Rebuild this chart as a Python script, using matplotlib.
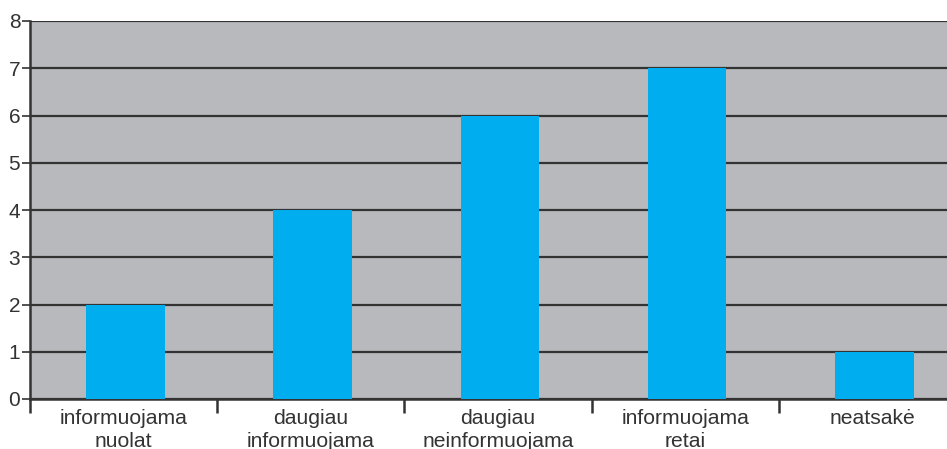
import matplotlib.pyplot as plt
import numpy as np

categories = ["informuojama\nnuolat", "daugiau\ninformuojama", "daugiau\nneinformuojama",
              "informuojama\nretai", "neatsakė"]
values = [2, 4, 6, 7, 1]
yticks = [0, 1, 2, 3, 4, 5, 6, 7, 8]

plt.rcParams['font.family'] = ['Liberation Sans', 'DejaVu Sans']

fig = plt.figure(figsize=(9.47, 4.49), dpi=100)
ax = fig.add_axes([30 / 947, 1 - 399 / 449, 936 / 947, 378 / 449])
ax.set_facecolor('#b8b9bd')

x = np.arange(len(categories))
ax.bar(x + 0.01, values, width=0.42, color='#00adef', zorder=3)

ax.set_xlim(-0.5, len(categories) - 0.5)
ax.set_ylim(0, 8)
ax.set_yticks(yticks)
ax.yaxis.grid(True, color='#333333', linewidth=1.6, zorder=1)
ax.set_axisbelow(True)

# category labels centred, boundary ticks as minor ticks
ax.set_xticks(x)
ax.set_xticklabels(categories, fontsize=15.2, color='#333333', linespacing=1.25)
ax.tick_params(axis='x', which='major', length=0, pad=7.5)
ax.set_xticks(np.arange(-0.5, len(categories) + 0.5, 1), minor=True)
ax.tick_params(axis='x', which='minor', length=10, width=1.8, color='#333333')
ax.tick_params(axis='y', length=6, width=1.2, color='#333333', labelsize=15,
               labelcolor='#333333', pad=1)

for s in ['top', 'right']:
    ax.spines[s].set_visible(False)
for s in ['left', 'bottom']:
    ax.spines[s].set_color('#333333')
    ax.spines[s].set_linewidth(1.8)

fig.savefig('out.png', dpi=100)
